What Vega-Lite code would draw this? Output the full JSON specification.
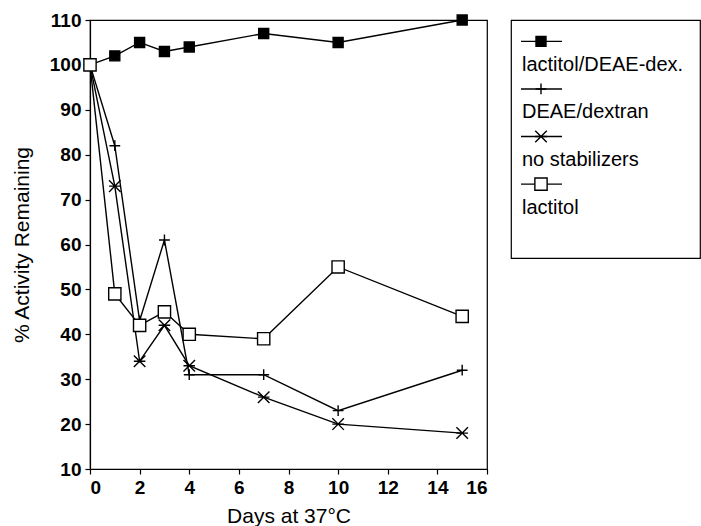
{
  "$schema": "https://vega.github.io/schema/vega-lite/v6.json",
  "padding": {"left": 10, "top": 10, "right": 0, "bottom": 3},
  "bounds": "flush",
  "spacing": 24,
  "config": {
    "font": "Liberation Sans",
    "view": {"stroke": "black", "strokeWidth": 1.2},
    "axis": {
      "domainColor": "black", "tickColor": "black", "labelColor": "black", "titleColor": "black",
      "grid": false, "tickSize": 5, "labelFontSize": 19, "labelFontWeight": "bold",
      "titleFontSize": 21, "titleFontWeight": "normal", "domainWidth": 1.2, "tickWidth": 1.2
    }
  },
  "datasets": {
    "main": [
      {"series": "lactitol/DEAE-dex.", "day": 0, "pct": 100},
      {"series": "lactitol/DEAE-dex.", "day": 1, "pct": 102},
      {"series": "lactitol/DEAE-dex.", "day": 2, "pct": 105},
      {"series": "lactitol/DEAE-dex.", "day": 3, "pct": 103},
      {"series": "lactitol/DEAE-dex.", "day": 4, "pct": 104},
      {"series": "lactitol/DEAE-dex.", "day": 7, "pct": 107},
      {"series": "lactitol/DEAE-dex.", "day": 10, "pct": 105},
      {"series": "lactitol/DEAE-dex.", "day": 15, "pct": 110},
      {"series": "DEAE/dextran", "day": 0, "pct": 100},
      {"series": "DEAE/dextran", "day": 1, "pct": 82},
      {"series": "DEAE/dextran", "day": 2, "pct": 43},
      {"series": "DEAE/dextran", "day": 3, "pct": 61},
      {"series": "DEAE/dextran", "day": 4, "pct": 31},
      {"series": "DEAE/dextran", "day": 7, "pct": 31},
      {"series": "DEAE/dextran", "day": 10, "pct": 23},
      {"series": "DEAE/dextran", "day": 15, "pct": 32},
      {"series": "no stabilizers", "day": 0, "pct": 100},
      {"series": "no stabilizers", "day": 1, "pct": 73},
      {"series": "no stabilizers", "day": 2, "pct": 34},
      {"series": "no stabilizers", "day": 3, "pct": 42},
      {"series": "no stabilizers", "day": 4, "pct": 33},
      {"series": "no stabilizers", "day": 7, "pct": 26},
      {"series": "no stabilizers", "day": 10, "pct": 20},
      {"series": "no stabilizers", "day": 15, "pct": 18},
      {"series": "lactitol", "day": 0, "pct": 100},
      {"series": "lactitol", "day": 1, "pct": 49},
      {"series": "lactitol", "day": 2, "pct": 42},
      {"series": "lactitol", "day": 3, "pct": 45},
      {"series": "lactitol", "day": 4, "pct": 40},
      {"series": "lactitol", "day": 7, "pct": 39},
      {"series": "lactitol", "day": 10, "pct": 55},
      {"series": "lactitol", "day": 15, "pct": 44}
    ],
    "legend": [
      {"series": "lactitol/DEAE-dex."},
      {"series": "DEAE/dextran"},
      {"series": "no stabilizers"},
      {"series": "lactitol"}
    ]
  },
  "hconcat": [
    {
      "width": 397,
      "height": 449,
      "data": {"name": "main"},
      "encoding": {
        "x": {"field": "day", "type": "quantitative",
              "scale": {"domain": [0, 16], "nice": false},
              "axis": {"values": [0, 2, 4, 6, 8, 10, 12, 14, 16], "title": "Days at 37°C", "labelPadding": 4, "titlePadding": 8}},
        "y": {"field": "pct", "type": "quantitative",
              "scale": {"domain": [10, 110], "nice": false},
              "axis": {"values": [10, 20, 30, 40, 50, 60, 70, 80, 90, 100, 110], "title": "% Activity Remaining", "labelPadding": 4, "titlePadding": 17}}
      },
      "layer": [
        {"mark": {"type": "line", "color": "black", "strokeWidth": 1.4},
         "encoding": {"detail": {"field": "series"}}},
        {"mark": {"type": "point", "filled": true, "stroke": "black", "strokeWidth": 1.4, "opacity": 1},
         "encoding": {
           "shape": {"field": "series", "type": "nominal",
                     "scale": {"domain": ["lactitol/DEAE-dex.", "DEAE/dextran", "no stabilizers", "lactitol"],
                               "range": ["square", "M0,-1V1M-1,0H1", "M-1,-1L1,1M-1,1L1,-1M-1,0H1", "square"]},
                     "legend": null},
           "fill": {"field": "series", "type": "nominal",
                    "scale": {"domain": ["lactitol/DEAE-dex.", "DEAE/dextran", "no stabilizers", "lactitol"],
                              "range": ["black", "transparent", "transparent", "white"]},
                    "legend": null},
           "size": {"field": "series", "type": "nominal",
                    "scale": {"domain": ["lactitol/DEAE-dex.", "DEAE/dextran", "no stabilizers", "lactitol"],
                              "range": [100, 150, 100, 85]},
                    "legend": null}
         }}
      ]
    },
    {
      "width": 189,
      "height": 238,
      "data": {"name": "legend"},
      "encoding": {
        "y": {"field": "series", "type": "nominal",
              "sort": ["lactitol/DEAE-dex.", "DEAE/dextran", "no stabilizers", "lactitol"],
              "scale": {"type": "point", "padding": 1.07, "align": 0.34}, "axis": null}
      },
      "layer": [
        {"mark": {"type": "rule", "color": "black", "strokeWidth": 1.4, "yOffset": -11},
         "encoding": {
           "x": {"datum": 10, "type": "quantitative", "scale": {"domain": [0, 189], "nice": false, "zero": false}, "axis": null},
           "x2": {"datum": 51}
         }},
        {"mark": {"type": "point", "filled": true, "stroke": "black", "strokeWidth": 1.4, "opacity": 1, "yOffset": -11},
         "encoding": {
           "x": {"datum": 30, "type": "quantitative"},
           "shape": {"field": "series", "type": "nominal",
                     "scale": {"domain": ["lactitol/DEAE-dex.", "DEAE/dextran", "no stabilizers", "lactitol"],
                               "range": ["square", "M0,-1V1M-1,0H1", "M-1,-1L1,1M-1,1L1,-1M-1,0H1", "square"]},
                     "legend": null},
           "fill": {"field": "series", "type": "nominal",
                    "scale": {"domain": ["lactitol/DEAE-dex.", "DEAE/dextran", "no stabilizers", "lactitol"],
                              "range": ["black", "transparent", "transparent", "white"]},
                    "legend": null},
           "size": {"field": "series", "type": "nominal",
                    "scale": {"domain": ["lactitol/DEAE-dex.", "DEAE/dextran", "no stabilizers", "lactitol"],
                              "range": [80, 90, 70, 60]},
                    "legend": null}
         }},
        {"mark": {"type": "text", "align": "left", "baseline": "middle", "fontSize": 20, "color": "black", "yOffset": 12.5},
         "encoding": {
           "x": {"datum": 11, "type": "quantitative"},
           "text": {"field": "series"}
         }}
      ]
    }
  ]
}
